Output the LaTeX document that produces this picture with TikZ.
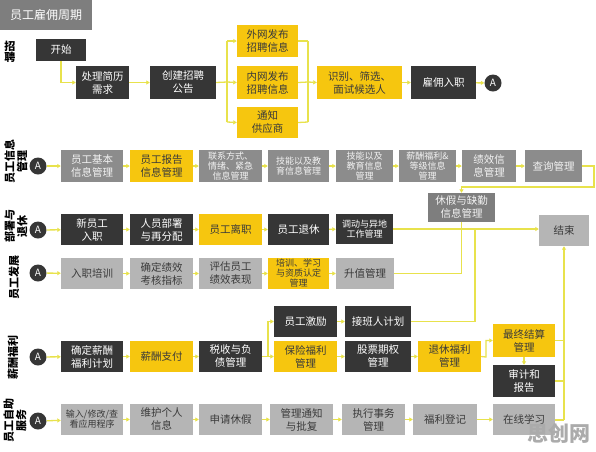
\documentclass[tikz,border=0pt]{standalone}
\usepackage{fontspec}
\setmainfont{Noto Sans CJK SC}
\usetikzlibrary{arrows.meta}
\definecolor{dkc}{HTML}{363636}
\definecolor{ylc}{HTML}{F6C60F}
\definecolor{mdc}{HTML}{8C8C8C}
\definecolor{ltc}{HTML}{B5B5B5}
\definecolor{hdc}{HTML}{7E7E7E}
\definecolor{txc}{HTML}{3A3A3A}
\definecolor{lnc}{HTML}{E8E24C}
\newcommand\mybox[7]{\node[#2, minimum width={#5-#3}, minimum height={#6-#4}] (#1) at ({(#3+#5)/2},{(#4+#6)/2}) {#7};}
\tikzset{
  bx/.style={inner sep=1pt, align=center, font=\fontsize{10.5}{13}\selectfont},
  dk/.style={bx, fill=dkc, text=white},
  yl/.style={bx, fill=ylc, text=txc},
  md/.style={bx, fill=mdc, text=white!95!black},
  hd/.style={bx, fill=hdc, text=white!95!black},
  lt/.style={bx, fill=ltc, text=txc},
  sm/.style={font=\fontsize{9}{10}\selectfont},
  circ/.style={circle, fill=dkc, text=white, minimum size=17pt, inner sep=0pt, font=\fontsize{10}{10}\selectfont},
  ln/.style={draw=lnc, line width=1.3pt},
  ar/.style={ln, -{Triangle[length=3.5pt,width=4pt]}},
  side/.style={font=\fontsize{11}{12.5}\selectfont\bfseries, text=black, align=center, inner sep=0pt},
}
\begin{document}
\begin{tikzpicture}[x=1pt,y=-1pt]
\useasboundingbox (0,0) rectangle (596,451);
% title
\mybox{title}{bx, fill=hdc, text=white, font=\fontsize{12}{14}\selectfont}{0}{0}{92}{30}{员工雇佣周期}
% side labels
\node[side] (s1) at (10,52) {招\\[-1pt]聘};
\node[side, rotate=90] (s2) at (16,161) {员工信息\\管理};
\node[side, rotate=90] (s3) at (16,226) {部署与\\退休};
\node[side, rotate=90] (s4) at (14,277) {员工发展};
\node[side, rotate=90] (s5) at (13,357) {薪酬福利};
\node[side, rotate=90] (s6) at (15,420) {员工自助\\服务};
% row 1
\mybox{start}{dk}{36}{39}{86}{61}{开始}
\mybox{r1a}{dk}{76}{66}{129}{99}{处理简历\\需求}
\mybox{r1b}{dk}{150}{66}{216}{99}{创建招聘\\公告}
\mybox{r1c}{yl}{237}{25}{298}{57}{外网发布\\招聘信息}
\mybox{r1d}{yl}{237}{66}{298}{99}{内网发布\\招聘信息}
\mybox{r1e}{yl}{237}{107}{298}{138}{通知\\供应商}
\mybox{r1f}{yl}{317}{66}{402}{99}{识别、筛选、\\面试候选人}
\mybox{r1g}{dk}{411}{66}{476}{99}{雇佣入职}
\node[circ] (a1) at (493,83) {A};
% row 2
\node[circ] (a2) at (38,166) {A};
\mybox{r2a}{md}{61}{150}{123}{182}{员工基本\\信息管理}
\mybox{r2b}{yl}{130}{150}{193}{182}{员工报告\\信息管理}
\mybox{r2c}{md,sm}{199}{150}{262}{182}{联系方式、\\情绪、紧急\\信息管理}
\mybox{r2d}{md,sm}{268}{150}{329}{182}{技能以及教\\育信息管理}
\mybox{r2e}{md,sm}{336}{150}{393}{182}{技能以及\\教育信息\\管理}
\mybox{r2f}{md,sm}{399}{150}{456}{182}{薪酬福利\&\\等级信息\\管理}
\mybox{r2g}{md}{462}{150}{516}{182}{绩效信\\息管理}
\mybox{r2h}{md}{525}{150}{582}{182}{查询管理}
\mybox{leave}{hd}{428}{193}{495}{222}{休假与缺勤\\信息管理}
\mybox{end}{lt}{539}{215}{589}{246}{结束}
% row 3
\node[circ] (a3) at (38,230) {A};
\mybox{r3a}{dk}{61}{214}{123}{245}{新员工\\入职}
\mybox{r3b}{dk}{130}{214}{193}{245}{人员部署\\与再分配}
\mybox{r3c}{yl}{199}{214}{262}{245}{员工离职}
\mybox{r3d}{dk}{268}{214}{329}{245}{员工退休}
\mybox{r3e}{dk,sm}{336}{214}{393}{244}{调动与异地\\工作管理}
% row 4
\node[circ] (a4) at (38,273) {A};
\mybox{r4a}{lt}{61}{258}{123}{289}{入职培训}
\mybox{r4b}{lt}{130}{258}{193}{289}{确定绩效\\考核指标}
\mybox{r4c}{lt}{199}{258}{262}{289}{评估员工\\绩效表现}
\mybox{r4d}{yl,sm}{268}{258}{329}{289}{培训、学习\\与资质认定\\管理}
\mybox{r4e}{lt}{336}{258}{394}{289}{升值管理}
% row 5
\node[circ] (a5) at (38,357) {A};
\mybox{r5a}{dk}{61}{341}{123}{372}{确定薪酬\\福利计划}
\mybox{r5b}{yl}{130}{341}{193}{372}{薪酬支付}
\mybox{r5c}{dk}{199}{341}{262}{372}{税收与负\\债管理}
\mybox{r5d}{yl}{274}{341}{337}{372}{保险福利\\管理}
\mybox{r5e}{dk}{345}{341}{411}{372}{股票期权\\管理}
\mybox{r5f}{yl}{418}{341}{481}{372}{退休福利\\管理}
\mybox{r5g}{dk}{274}{306}{337}{337}{员工激励}
\mybox{r5h}{dk}{345}{306}{411}{337}{接班人计划}
\mybox{r5i}{yl}{493}{324}{555}{357}{最终结算\\管理}
\mybox{r5j}{dk}{493}{365}{555}{397}{审计和\\报告}
% row 6
\node[circ] (a6) at (38,421) {A};
\mybox{r6a}{lt,sm}{61}{404}{123}{435}{输入/修改/查\\看应用程序}
\mybox{r6b}{lt}{130}{404}{193}{435}{维护个人\\信息}
\mybox{r6c}{lt}{199}{404}{262}{435}{申请休假}
\mybox{r6d}{lt}{270}{404}{333}{435}{管理通知\\与批复}
\mybox{r6e}{lt}{342}{404}{405}{435}{执行事务\\管理}
\mybox{r6f}{lt}{413}{404}{477}{435}{福利登记}
\mybox{r6g}{lt}{493}{404}{555}{435}{在线学习}
% watermark
\node[font=\fontsize{21}{21}\selectfont\bfseries, text=black!33, inner sep=0pt] (wm) at (559,433) {思创网};
% ---------- connectors ----------
% row 1
\draw[ar] (start.south) |- (r1a.west);
\draw[ar] (r1a) -- (r1b);
\coordinate (b1) at (227,82);
\draw[ln] (r1b.east) -- (b1);
\draw[ln] (227,41) -- (227,122);
\draw[ar] (227,41) -- (r1c.west);
\draw[ar] (b1) -- (r1d.west);
\draw[ar] (227,122) -- (r1e.west);
\draw[ln] (r1c.east) -- (308,41);
\draw[ln] (r1e.east) -- (308,122);
\draw[ln] (308,41) -- (308,122);
\draw[ln] (r1d.east) -- (308,82);
\draw[ar] (308,82) -- (r1f.west);
\draw[ar] (r1f) -- (r1g);
\draw[ar] (r1g) -- (a1);
% row 2
\foreach \p/\q in {a2/r2a,r2a/r2b,r2b/r2c,r2c/r2d,r2d/r2e,r2e/r2f,r2f/r2g,r2g/r2h}{\draw[ar] (\p) -- (\q);}
\coordinate (c1) at (594,187);
\draw[ar] (r2h.east) -| (c1) -| (leave.north);
% row 3
\foreach \p/\q in {a3/r3a,r3a/r3b,r3b/r3c,r3c/r3d,r3d/r3e}{\draw[ar] (\p) -- (\q);}
\draw[ar] (r3e.east) -- (r3e.east -| end.west);
\coordinate (c2) at (475,229);
\draw[ln] (r5h.east) -| (c2);
\draw[ln] (r4e.east) -| (leave.south);
% row 4
\foreach \p/\q in {a4/r4a,r4a/r4b,r4b/r4c,r4c/r4d,r4d/r4e}{\draw[ar] (\p) -- (\q);}
% row 5
\foreach \p/\q in {a5/r5a,r5a/r5b,r5b/r5c,r5c/r5d,r5d/r5e,r5e/r5f,r5g/r5h}{\draw[ar] (\p) -- (\q);}
\coordinate (c3) at (268,357);
\draw[ar] (c3) |- (r5g.west);
\coordinate (c4) at (486,357);
\draw[ar] (r5f.east) -- (c4) |- (r5i.west);
\draw[ar] (r5i) -- (r5j);
% row 6
\foreach \p/\q in {a6/r6a,r6a/r6b,r6b/r6c,r6c/r6d,r6d/r6e,r6e/r6f,r6f/r6g}{\draw[ar] (\p) -- (\q);}
% to end
\coordinate (c5) at (564,420);
\draw[ar] (c5) -- (end.south -| c5);
\draw[ln] (r5i.east) -- (r5i.east -| c5);
\draw[ln] (r5j.east) -- (r5j.east -| c5);
\draw[ln] (r6g.east |- c5) -- (c5);
\end{tikzpicture}
\end{document}
